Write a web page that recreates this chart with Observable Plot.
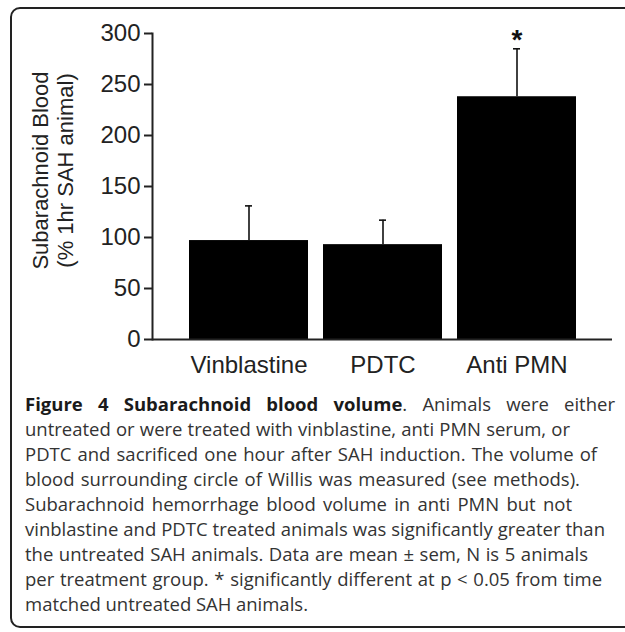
<!DOCTYPE html>
<html>
<head>
<meta charset="utf-8">
<script src="https://cdn.jsdelivr.net/npm/d3@7"></script>
<script src="https://cdn.jsdelivr.net/npm/@observablehq/plot@0.6"></script>
<style>
  html, body { margin: 0; padding: 0; width: 625px; height: 632px; overflow: hidden; background: #fff; }
  #box { position: absolute; left: 10px; top: 7px; width: 660px; height: 621px;
         border: 2px solid #222; border-radius: 10px; box-sizing: border-box; }
  #chart { position: absolute; left: 0; top: 0; }
  #caption { position: absolute; left: 25px; top: 391px; width: 600px;
             font-family: "Open Sans", sans-serif; font-size: 18.5px; line-height: 25px; color: #333; }
  #caption .l { white-space: nowrap; }
  #caption b { color: #1a1a1a; }
</style>
</head>
<body>
<div id="box"></div>
<div id="chart"></div>
<div id="caption"></div>
<script>
const categories = ["Vinblastine", "PDTC", "Anti PMN"];
const means = [97, 93, 238];
const sems = [34, 24, 47];
const significance = ["", "", "*"];
const yTicks = [0, 50, 100, 150, 200, 250, 300];
const yLabel = "Subarachnoid Blood\n(% 1hr SAH animal)";
const captionTitle = "Figure 4 Subarachnoid blood volume";
const captionLines = [
  ". Animals were either",
  "untreated or were treated with vinblastine, anti PMN serum, or",
  "PDTC and sacrificed one hour after SAH induction. The volume of",
  "blood surrounding circle of Willis was measured (see methods).",
  "Subarachnoid hemorrhage blood volume in anti PMN but not",
  "vinblastine and PDTC treated animals was significantly greater than",
  "the untreated SAH animals. Data are mean \u00b1 sem, N is 5 animals",
  "per treatment group. * significantly different at p < 0.05 from time",
  "matched untreated SAH animals."
];
// measured line widths in the reference (px)
const captionWidths = [590, 545, 572, 555, 547, 580, 563, 577, 283];

const data = categories.map((name, i) => ({
  name, mean: means[i], hi: means[i] + sems[i], sig: significance[i]
}));

const chart = Plot.plot({
  width: 625,
  height: 390,
  marginLeft: 152,
  marginRight: 13,
  marginTop: 33,
  marginBottom: 51,
  style: { fontFamily: "'Liberation Sans', Arial, sans-serif", color: "#111", background: "transparent", overflow: "visible" },
  x: { domain: categories, paddingInner: 0.112, paddingOuter: 0.27 },
  y: { domain: [0, 300] },
  marks: [
    Plot.barY(data, { x: "name", y: "mean", fill: "#000" }),
    Plot.ruleX(data, { x: "name", y1: "mean", y2: "hi", stroke: "#111", strokeWidth: 1.6 }),
    Plot.tickY(data, { x: "name", y: "hi", insetLeft: 56, insetRight: 56, stroke: "#111", strokeWidth: 1.6 }),
    Plot.text(data, { x: "name", y: "hi", text: "sig", lineAnchor: "bottom", dy: 0, fontSize: 28, fontWeight: "bold", fill: "#111" }),
    Plot.ruleY([0], { stroke: "#222", strokeWidth: 2 }),
    Plot.frame({ anchor: "left", stroke: "#222", strokeWidth: 2 }),
    Plot.axisY({ ticks: yTicks, tickSize: 8, tickPadding: 4, fontSize: 24, label: null, stroke: "#222", strokeWidth: 2, fill: "#222" }),
    Plot.axisX({ tickSize: 0, tickPadding: 16, fontSize: 24, label: null, fill: "#222" }),
    Plot.text([yLabel], { frameAnchor: "left", rotate: -90, dx: -100, dy: -16, fontSize: 22, lineHeight: 1.16, fill: "#222", textAnchor: "middle", lineAnchor: "middle" })
  ]
});
document.getElementById("chart").appendChild(chart);

const cap = document.getElementById("caption");
captionLines.forEach((line, i) => {
  const div = document.createElement("div");
  div.className = "l";
  const span = document.createElement("span");
  if (i === 0) {
    const b = document.createElement("b");
    b.textContent = captionTitle;
    span.appendChild(b);
  }
  span.appendChild(document.createTextNode(line));
  div.appendChild(span);
  cap.appendChild(div);
  const natural = span.getBoundingClientRect().width;
  const fullText = (i === 0 ? captionTitle : "") + line;
  const spaces = (fullText.match(/ /g) || []).length;
  if (spaces > 0) {
    span.style.wordSpacing = ((captionWidths[i] - natural) / spaces).toFixed(2) + "px";
  }
});
</script>
</body>
</html>
